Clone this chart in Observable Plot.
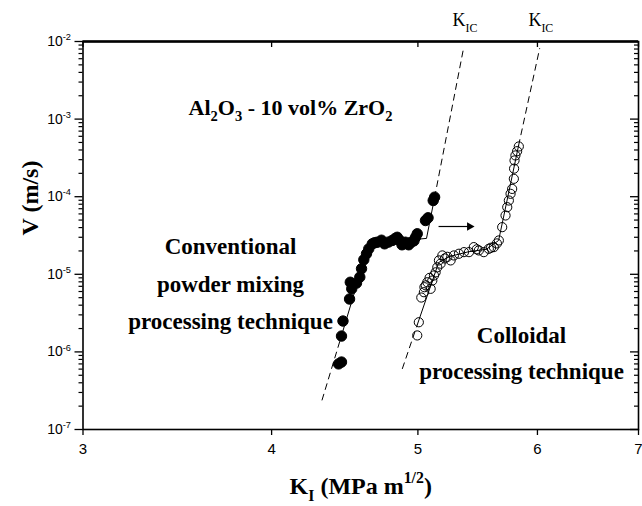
<!DOCTYPE html>
<html><head><meta charset="utf-8">
<script src="https://cdn.jsdelivr.net/npm/d3@7"></script>
<script src="https://cdn.jsdelivr.net/npm/@observablehq/plot@0.6"></script>
<style>
html,body{margin:0;padding:0;background:#fff;}
#chart{width:642px;height:506px;}
</style></head><body><div id="chart"></div>
<script>
// ---- data (K in MPa m^1/2, V in m/s) ----
const conventionalK = [4.43,4.45,4.45,4.46,4.505,4.52,4.51,4.553,4.576,4.588,4.604,4.623,4.639,4.664,4.68,4.699,4.73,4.752,4.78,4.808,4.83,4.845,4.864,4.88,4.906,4.93,4.949,4.97,4.982,4.995,5.058,5.078,5.118,5.129];
const conventionalV = [7.0e-7,7.4e-7,1.6e-6,2.5e-6,4.8e-6,6.5e-6,7.9e-6,7.7e-6,9.2e-6,1.18e-5,1.54e-5,1.84e-5,2.13e-5,2.47e-5,2.55e-5,2.59e-5,2.75e-5,2.47e-5,2.6e-5,2.73e-5,2.9e-5,3.0e-5,2.73e-5,2.4e-5,2.59e-5,2.4e-5,2.59e-5,2.7e-5,3.0e-5,3.33e-5,4.93e-5,5.35e-5,8.93e-5,9.86e-5];
const colloidalK = [4.995,5.007,5.026,5.046,5.05,5.06,5.072,5.098,5.09,5.111,5.124,5.137,5.15,5.163,5.176,5.19,5.21,5.23,5.256,5.282,5.323,5.364,5.405,5.445,5.47,5.487,5.529,5.571,5.59,5.614,5.64,5.657,5.686,5.715,5.73,5.744,5.759,5.773,5.788,5.79,5.794,5.802,5.817,5.832];
const colloidalV = [1.63e-6,2.41e-6,5.02e-6,5.88e-6,6.82e-6,7.2e-6,7.9e-6,6.5e-6,9.0e-6,8.3e-6,9.66e-6,1.06e-5,1.23e-5,1.51e-5,1.37e-5,1.75e-5,1.6e-5,1.68e-5,1.51e-5,1.75e-5,1.84e-5,1.93e-5,1.93e-5,2.24e-5,2.1e-5,2.03e-5,1.93e-5,2.13e-5,2.2e-5,2.24e-5,2.5e-5,2.73e-5,4.05e-5,5.73e-5,7.33e-5,8.93e-5,1.09e-4,1.26e-4,1.70e-4,2.3e-4,2.93e-4,3.4e-4,3.86e-4,4.44e-4];

// fitted trend lines
const convDashLowK = [4.32, 4.44],  convDashLowV = [2.4e-7, 1.4e-6];
const convSolidK = [4.44, 4.61, 4.68, 4.78, 4.87, 4.96, 5.066, 5.129];
const convSolidV = [1.4e-6, 1.6e-5, 2.4e-5, 2.6e-5, 2.7e-5, 2.8e-5, 2.9e-5, 9.8e-5];
const convDashHighK = [5.129, 5.36], convDashHighV = [9.8e-5, 8.1e-3];
const collDashLowK = [4.883, 4.995], collDashLowV = [6.1e-7, 2.23e-6];
const collSolidK = [4.995, 5.161, 5.25, 5.40, 5.55, 5.655, 5.83];
const collSolidV = [2.23e-6, 1.42e-5, 1.7e-5, 1.95e-5, 2.1e-5, 2.73e-5, 4.57e-4];
const collDashHighK = [5.83, 6.02], collDashHighV = [4.57e-4, 8.1e-3];

const arrowK = [5.16, 5.41];
const arrowV = [4.13e-5, 4.13e-5];

// ticks
const xTicks = [3, 4, 5, 6, 7];
const yMajor = [1e-7, 1e-6, 1e-5, 1e-4, 1e-3, 1e-2];
const yMinor = [];
for (const d of yMajor.slice(0, -1)) for (let m = 2; m <= 9; m++) yMinor.push(d * m);

// labels
const titleText = "Al_{2}O_{3} - 10 vol% ZrO_{2}";
const convLabel = "Conventional\npowder mixing\nprocessing technique";
const collLabel = "Colloidal\nprocessing technique";
const kicLabel = "K_{IC}";
const xTitle = "K_{I} (MPa m^{1/2})";
const yTitle = "V (m/s)";

const zip = (a, b) => a.map((k, i) => ({K: k, V: b[i]}));
const serif = "'Liberation Serif', 'Times New Roman', serif";
const sans = "'Liberation Sans', Arial, sans-serif";

const W = 642, H = 506, mL = 82.5, mR = 4, mT = 41, mB = 77;
const fw = W - mL - mR, fh = H - mT - mB;

const lineOpts = {x: "K", y: "V", stroke: "black", strokeWidth: 1};
const dashOpts = {...lineOpts, strokeDasharray: "6,5"};

const chart = Plot.plot({
  width: W, height: H,
  marginLeft: mL, marginRight: mR, marginTop: mT, marginBottom: mB,
  x: {type: "log", domain: [3, 7]},
  y: {type: "log", domain: [1e-7, 1e-2]},
  style: {fontFamily: sans, fontSize: "14px", background: "white", color: "black", overflow: "visible"},
  marks: [
    Plot.axisY(yMajor, {anchor: "left", tickSize: 8, tickPadding: 4, strokeWidth: 1.3, label: null, fontSize: 14,
      tickFormat: d => `10^{${Math.round(Math.log10(d))}}`}),
    Plot.axisY(yMinor, {anchor: "left", tickSize: 4, strokeWidth: 1.2, label: null, tickFormat: () => ""}),
    Plot.tickY(yMajor, {y: d => d, insetLeft: fw - 8, strokeWidth: 1.3}),
    Plot.tickY(yMinor, {y: d => d, insetLeft: fw - 4, strokeWidth: 1.2}),
    Plot.axisX(xTicks, {anchor: "bottom", tickSize: 6, tickPadding: 8, strokeWidth: 1.3, label: null, fontSize: 15, tickFormat: d => String(d)}),
    Plot.tickX(xTicks, {x: d => d, insetBottom: fh - 6, strokeWidth: 1.3}),
    Plot.frame({stroke: "black", strokeWidth: 1.6}),
    Plot.ruleY([1e-2], {stroke: "black", strokeWidth: 2.6}),
    Plot.line(zip(convDashLowK, convDashLowV), dashOpts),
    Plot.line(zip(convSolidK, convSolidV), lineOpts),
    Plot.line(zip(convDashHighK, convDashHighV), dashOpts),
    Plot.line(zip(collDashLowK, collDashLowV), dashOpts),
    Plot.line(zip(collSolidK, collSolidV), lineOpts),
    Plot.line(zip(collDashHighK, collDashHighV), dashOpts),
    Plot.dot(zip(conventionalK, conventionalV), {x: "K", y: "V", r: 5.2, fill: "black", stroke: "black", strokeWidth: 1}),
    Plot.dot(zip(colloidalK, colloidalV), {x: "K", y: "V", r: 4.6, fill: "none", stroke: "black", strokeWidth: 1}),
    Plot.link([0], {x1: arrowK[0], x2: arrowK[1], y1: arrowV[0], y2: arrowV[1], stroke: "black", strokeWidth: 1.2}),
    Plot.dot([0], {x: arrowK[1], y: arrowV[1], symbol: "triangle", rotate: 90, r: 3.2, fill: "black", stroke: "none"}),
    Plot.text([titleText], {x: 3.524, y: 1.41e-3, text: d => d, textAnchor: "start", fontFamily: serif, fontWeight: "bold", fontSize: 22}),
    Plot.text([convLabel], {x: 3.757, y: 8.57e-6, text: d => d, textAnchor: "middle", lineHeight: 1.63, fontFamily: serif, fontWeight: "bold", fontSize: 23}),
    Plot.text([collLabel], {x: 5.856, y: 1.074e-6, text: d => d, textAnchor: "middle", lineHeight: 1.57, fontFamily: serif, fontWeight: "bold", fontSize: 23}),
    Plot.text([5.271, 5.918], {x: d => d, y: 0.0187, text: () => kicLabel, textAnchor: "start", fontFamily: serif, fontSize: 18}),
    Plot.text([yTitle], {frameAnchor: "left", dx: -52.5, rotate: -90, text: d => d, fontFamily: serif, fontWeight: "bold", fontSize: 24}),
    Plot.text([xTitle], {frameAnchor: "bottom", dy: 64, text: d => d, fontFamily: serif, fontWeight: "bold", fontSize: 24})
  ]
});

document.getElementById("chart").appendChild(chart);

// turn _{..} and ^{..} into sub/superscript tspans
function richify(svg) {
  const NS = "http://www.w3.org/2000/svg";
  const leaves = Array.from(svg.querySelectorAll("text, tspan"))
    .filter(el => el.children.length === 0 && /[_^]\{/.test(el.textContent));
  for (const el of leaves) {
    const s = el.textContent;
    const fs = parseFloat(getComputedStyle(el).fontSize) || 14;
    el.textContent = "";
    let shift = 0, last = 0, m;
    const re = /([_^])\{([^}]*)\}/g;
    const add = (txt, kind) => {
      const t = document.createElementNS(NS, "tspan");
      t.textContent = txt;
      const target = kind === "_" ? fs * 0.3 : kind === "^" ? -fs * 0.42 : 0;
      const dy = target - shift;
      if (dy) t.setAttribute("dy", dy.toFixed(2));
      if (kind) t.setAttribute("font-size", (fs * 0.66).toFixed(2));
      shift = target;
      el.appendChild(t);
    };
    while ((m = re.exec(s))) {
      if (m.index > last) add(s.slice(last, m.index), null);
      add(m[2], m[1]);
      last = re.lastIndex;
    }
    if (last < s.length) add(s.slice(last), null);
  }
}
richify(chart);
</script>
</body></html>
